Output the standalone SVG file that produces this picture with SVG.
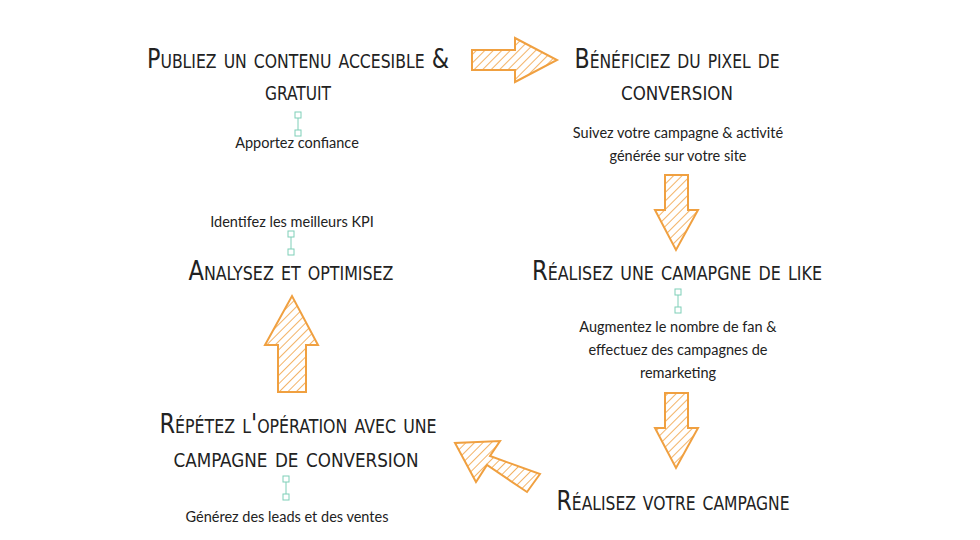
<svg xmlns="http://www.w3.org/2000/svg" width="980" height="540" viewBox="0 0 980 540">
<defs>
<pattern id="h" patternUnits="userSpaceOnUse" width="6" height="6" patternTransform="rotate(45)">
<rect width="6" height="6" fill="#fff"/><line x1="0" y1="0" x2="0" y2="6" stroke="#f0a040" stroke-width="1.6"/>
</pattern>
<g id="con"><line x1="0" y1="0" x2="0" y2="20" stroke="#7fcfb8" stroke-width="1"/><rect x="-3" y="-2" width="6" height="6" fill="#fff" stroke="#7fcfb8"/><rect x="-3" y="16" width="6" height="6" fill="#fff" stroke="#7fcfb8"/></g>
</defs>
<style>
.t{font-family:"DejaVu Sans Condensed","DejaVu Sans",sans-serif;font-variant:small-caps;font-size:27px;fill:#222;text-anchor:middle}
.s{font-family:"Lato","Liberation Sans",sans-serif;font-size:14.5px;fill:#222;text-anchor:middle}
.a{fill:url(#h);stroke:#f0a040;stroke-width:2;stroke-linejoin:miter}
</style>
<rect width="980" height="540" fill="#fff"/>
<g id="connectors">
<path class="a" d="M472,50 H515 V38 L557,60 L515,82 V70 H472 Z"/>
<path class="a" d="M665,175 H688 V210 H698 L676,250 L655,210 H665 Z"/>
<path class="a" d="M665,393 H688 V428 H698 L676,468 L655,428 H665 Z"/>
<path class="a" d="M278,392 H306 V345 H318 L292,296 L265,345 H278 Z"/>
<path class="a" d="M540,474 L527,492 L487,465 L476,482 L455,443 L500,441 L490,456 Z"/>
</g>
<g id="n1"><text class="t" x="298" y="68" textLength="302" lengthAdjust="spacingAndGlyphs">Publiez un contenu accesible &amp;</text><text class="t" x="298" y="100" textLength="66" lengthAdjust="spacingAndGlyphs">gratuit</text><use href="#con" x="298" y="114"/><text class="s" x="297" y="148">Apportez confiance</text></g>
<g id="n2"><text class="t" x="677" y="68" textLength="205" lengthAdjust="spacingAndGlyphs">Bénéficiez du pixel de</text><text class="t" x="677" y="100" textLength="112" lengthAdjust="spacingAndGlyphs">conversion</text><text class="s" x="678" y="138">Suivez votre campagne &amp; activité</text><text class="s" x="678" y="161">générée sur votre site</text></g>
<g id="n3"><text class="t" x="677" y="280" textLength="290" lengthAdjust="spacingAndGlyphs">Réalisez une camapgne de like</text><use href="#con" x="678" y="291"/><text class="s" x="678" y="332">Augmentez le nombre de fan &amp;</text><text class="s" x="678" y="355">effectuez des campagnes de</text><text class="s" x="678" y="378">remarketing</text></g>
<g id="n4"><text class="t" x="673" y="510" textLength="233" lengthAdjust="spacingAndGlyphs">Réalisez votre campagne</text></g>
<g id="n5"><text class="s" x="292" y="227">Identifez les meilleurs KPI</text><use href="#con" x="291" y="233"/><text class="t" x="291" y="280" textLength="205" lengthAdjust="spacingAndGlyphs">Analysez et optimisez</text></g>
<g id="n6"><text class="t" x="298" y="433" textLength="277" lengthAdjust="spacingAndGlyphs">Répétez l'opération avec une</text><text class="t" x="296" y="467" textLength="245" lengthAdjust="spacingAndGlyphs">campagne de conversion</text><use href="#con" x="286" y="478"/><text class="s" x="287" y="522">Générez des leads et des ventes</text></g>
</svg>
